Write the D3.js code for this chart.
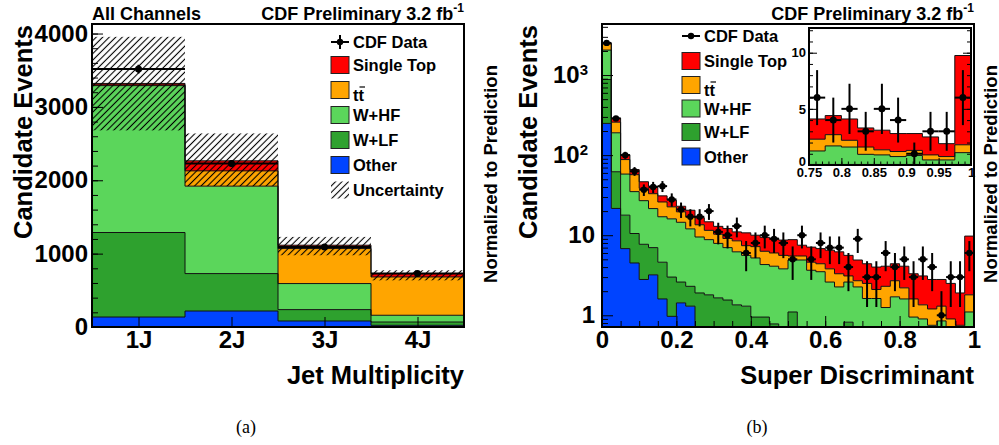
<!DOCTYPE html>
<html>
<head>
<meta charset="utf-8">
<script src="https://cdn.jsdelivr.net/npm/d3@7"></script>
<style>
  body { margin: 0; background: #fff; }
</style>
</head>
<body>
<div id="chart"></div>
<script>
// ---- (a) jet multiplicity ----
const jetBins = ['1J', '2J', '3J', '4J'];
const jetOther = [136, 218, 82, 23];
const jetWLF = [1152, 510, 155, 45];
const jetWHF = [2002, 1192, 355, 92];
const jetTT = [10, 208, 477, 522];
const jetST = [20, 137, 46, 46];
const jetData = [3515, 2228, 1091, 728];
const jetUncLow = [2680, 1920, 978, 636];
const jetUncHigh = [3955, 2638, 1228, 773];
const jetYTicks = [0, 1000, 2000, 3000, 4000];

// ---- (b) super discriminant, 40 bins of 0.025 ----
const sdOther = [249, 21.6, 6.8, 4.5, 2.8, 3.2, 1.6, 0.97, 1.43, 1.3,
  0, 0, 0, 0, 0, 0, 0, 0, 0, 0,
  0, 0, 0, 0, 0, 0, 0, 0, 0, 0,
  0, 0, 0, 0, 0, 0, 0, 0, 0, 0];
const sdWLF = [631, 40.4, 11, 6, 4.9, 3.8, 3.0, 2.03, 1.17, 1.0,
  1.9, 1.8, 1.65, 1.55, 1.35, 1.3, 0.95, 0.95, 0.78, 0.4,
  1.1, 0.4, 0.3, 0.3, 0.3, 0.3, 0.82, 0.2, 0.2, 0.2,
  0.05, 0.05, 0.05, 0.05, 0.05, 0.05, 0.05, 0.05, 0.05, 0.05];
const sdWHF = [1170, 128, 40.2, 24.5, 19.3, 14.5, 12.4, 13, 11.9, 9.7,
  7.6, 7.0, 6.25, 5.45, 4.85, 4.3, 4.25, 3.35, 3.32, 3.4,
  3.8, 4.5, 3.35, 3.2, 2.3, 1.96, 1.78, 2.06, 1.42, 1.42,
  1.2, 1.65, 1.55, 0.9, 0.85, 0.7, 0.8, 0.4, 0.4, 1.05];
const sdTT = [390, 68, 30, 22, 11.5, 11.5, 9, 6.6, 5.1, 5,
  4, 2.7, 2.4, 2.1, 2.3, 1.8, 2.0, 2.0, 1.9, 1.8,
  0.6, 0.6, 0.95, 0.9, 1.2, 1.04, 0.5, 0.44, 0.88, 0.48,
  1.05, 1.0, 0.6, 0.65, 0.45, 0.45, 0.45, 0.45, 0.3, 0.7];
const sdST = [80, 32, 13, 9, 8, 8, 5, 4.8, 3.4, 3.5,
  3, 3.2, 2.6, 3.0, 2.5, 3.3, 2.8, 3.1, 3.2, 3.1,
  3.3, 2.0, 2.5, 2.4, 2.7, 2.9, 2.5, 2.2, 1.9, 1.9,
  1.8, 1.7, 1.9, 1.7, 1.75, 1.6, 1.5, 1.6, 1.15, 7.95];
const sdData = [2520, 287, 100, 63, 37, 40, 41, 28, 21, 17,
  17, 20, 11, 10, 13, 6, 8, 10, 9, 8,
  5, 10, 5, 8, 7, 7, 4, 9, 3, 3,
  6, 4, 5, 3, 5, 4, 1, 3, 3, 6];
const sdXTicks = [0, 0.2, 0.4, 0.6, 0.8, 1];
const insetXTicks = [0.75, 0.8, 0.85, 0.9, 0.95, 1];
const insetYTicks = [0, 5, 10];

const legendLabels = ['CDF Data', 'Single Top', 'tt', 'W+HF', 'W+LF', 'Other', 'Uncertainty'];
const stackKeys = ['other', 'wlf', 'whf', 'tt', 'st'];
const stackColors = { other: '#0044ff', wlf: '#2ea12e', whf: '#5bd65b', tt: '#ffa500', st: '#ff0000' };

const FONT = '"Liberation Sans", Arial, Helvetica, sans-serif';
const W = 999, H = 445;

const svg = d3.select('#chart').append('svg')
  .attr('width', W).attr('height', H)
  .attr('viewBox', [0, 0, W, H])
  .attr('font-family', FONT)
  .attr('font-weight', 'bold');

svg.append('defs').append('pattern')
  .attr('id', 'hatch')
  .attr('patternUnits', 'userSpaceOnUse')
  .attr('width', 4.6).attr('height', 4.6)
  .attr('patternTransform', 'rotate(45)')
  .append('line')
  .attr('x1', 2.3).attr('y1', 0).attr('x2', 2.3).attr('y2', 4.6)
  .attr('stroke', '#000').attr('stroke-width', 1.1);

function drawStack(g, rows, edges, x, y, yMin) {
  const series = d3.stack().keys(stackKeys)(rows);
  const pts = s => {
    const p = s.map((d, i) => ({ x: edges[i], y0: d[0], y1: d[1] }));
    const last = s[s.length - 1];
    p.push({ x: edges[edges.length - 1], y0: last[0], y1: last[1] });
    return p;
  };
  const area = d3.area().curve(d3.curveStepAfter)
    .x(d => x(d.x))
    .y0(d => y(Math.max(d.y0, yMin)))
    .y1(d => y(Math.max(d.y1, yMin)));
  const line = d3.line().curve(d3.curveStepAfter)
    .x(d => x(d.x))
    .y(d => y(Math.max(d.y1, yMin)));
  g.selectAll('path.fill').data(series).enter().append('path')
    .attr('class', 'fill')
    .attr('d', s => area(pts(s)))
    .attr('fill', s => stackColors[s.key]);
  g.selectAll('path.edge').data(series).enter().append('path')
    .attr('class', 'edge')
    .attr('d', s => line(pts(s)))
    .attr('fill', 'none')
    .attr('stroke', '#111')
    .attr('stroke-width', 1);
}

function drawData(g, vals, edges, x, y, yMin, r) {
  const pts = g.selectAll('g.pt').data(vals).enter().append('g').attr('class', 'pt');
  pts.append('line')
    .attr('x1', (d, i) => x(edges[i])).attr('x2', (d, i) => x(edges[i + 1]))
    .attr('y1', d => y(d)).attr('y2', d => y(d))
    .attr('stroke', '#000').attr('stroke-width', 2);
  pts.append('line')
    .attr('x1', (d, i) => x((edges[i] + edges[i + 1]) / 2))
    .attr('x2', (d, i) => x((edges[i] + edges[i + 1]) / 2))
    .attr('y1', d => y(Math.max(d - Math.sqrt(d), yMin)))
    .attr('y2', d => y(d + Math.sqrt(d)))
    .attr('stroke', '#000').attr('stroke-width', 2);
  pts.append('circle')
    .attr('cx', (d, i) => x((edges[i] + edges[i + 1]) / 2))
    .attr('cy', d => y(d))
    .attr('r', r).attr('fill', '#000');
}

function styleAxis(g, size) {
  g.select('.domain').remove();
  g.attr('font-family', FONT).attr('font-size', size).attr('font-weight', 'bold');
  g.selectAll('.tick line').attr('stroke', '#000').attr('stroke-width', 1);
  g.selectAll('.tick text').attr('fill', '#000');
}

function legend(g, x0, rows, labels, dataStyle) {
  labels.forEach((lab, i) => {
    const cy = rows[i];
    if (i === 0) {
      g.append('line').attr('x1', x0).attr('x2', x0 + 18).attr('y1', cy).attr('y2', cy)
        .attr('stroke', '#000').attr('stroke-width', 2);
      if (dataStyle === 'cross') {
        g.append('line').attr('x1', x0 + 9).attr('x2', x0 + 9).attr('y1', cy - 7).attr('y2', cy + 7)
          .attr('stroke', '#000').attr('stroke-width', 2);
      }
      g.append('circle').attr('cx', x0 + 9).attr('cy', cy).attr('r', 3.2).attr('fill', '#000');
    } else if (lab === 'Uncertainty') {
      g.append('rect').attr('x', x0).attr('y', cy - 8.5).attr('width', 18).attr('height', 17)
        .attr('fill', 'url(#hatch)');
    } else {
      const key = stackKeys[5 - i];
      g.append('rect').attr('x', x0).attr('y', cy - 8.5).attr('width', 18).attr('height', 17)
        .attr('fill', stackColors[key]).attr('stroke', '#222').attr('stroke-width', 1);
    }
    const t = g.append('text').attr('x', x0 + 22).attr('font-size', 16.5).attr('fill', '#000');
    if (lab === 'tt') {
      t.attr('y', cy + 11).text('tt');
      g.append('line').attr('x1', x0 + 28.5).attr('x2', x0 + 34).attr('y1', cy - 3).attr('y2', cy - 3)
        .attr('stroke', '#000').attr('stroke-width', 1.2);
    } else {
      t.attr('y', cy + 6).text(lab);
    }
  });
}

function title(x, y, anchor, text, sup) {
  const t = svg.append('text').attr('x', x).attr('y', y).attr('text-anchor', anchor)
    .attr('font-size', 18).attr('fill', '#000').text(text);
  if (sup) t.append('tspan').attr('font-size', 12).attr('dy', -8).text(sup);
}

// ================= panel (a) =================
const L = { x0: 92, x1: 464, y0: 24, y1: 327 };
const xL = d3.scaleLinear().domain([0, jetBins.length]).range([L.x0, L.x1]);
const yL = d3.scaleLinear().domain([0, 4130]).range([L.y1, L.y0]);
const jetEdges = d3.range(jetBins.length + 1);
const jetRows = jetBins.map((b, i) => ({
  other: jetOther[i], wlf: jetWLF[i], whf: jetWHF[i], tt: jetTT[i], st: jetST[i]
}));

const gA = svg.append('g');
drawStack(gA, jetRows, jetEdges, xL, yL, 0);
gA.selectAll('rect.unc').data(jetBins).enter().append('rect')
  .attr('class', 'unc')
  .attr('x', (d, i) => xL(i)).attr('width', xL(1) - xL(0))
  .attr('y', (d, i) => yL(jetUncHigh[i]))
  .attr('height', (d, i) => yL(jetUncLow[i]) - yL(jetUncHigh[i]))
  .attr('fill', 'url(#hatch)');
drawData(gA, jetData, jetEdges, xL, yL, 0, 3.5);

const axLY = svg.append('g').attr('transform', `translate(${L.x0},0)`)
  .call(d3.axisLeft(yL).tickValues(jetYTicks).tickSize(-11).tickPadding(4).tickFormat(d3.format('d')));
styleAxis(axLY, 24);
const axLYm = svg.append('g').attr('transform', `translate(${L.x0},0)`)
  .call(d3.axisLeft(yL).tickValues(d3.range(0, 4130, 200)).tickSize(-6).tickFormat(''));
styleAxis(axLYm, 24);
const axLX = svg.append('g').attr('transform', `translate(0,${L.y1})`)
  .call(d3.axisBottom(xL).tickValues(jetBins.map((b, i) => i + 0.5)).tickSize(-10).tickPadding(4)
    .tickFormat((d, i) => jetBins[i]));
styleAxis(axLX, 24);

svg.append('rect').attr('x', L.x0).attr('y', L.y0).attr('width', L.x1 - L.x0).attr('height', L.y1 - L.y0)
  .attr('fill', 'none').attr('stroke', '#000').attr('stroke-width', 2);

legend(svg.append('g'), 331, [42, 65, 90, 115, 140, 165, 190], legendLabels, 'cross');

title(L.x0, 20, 'start', 'All Channels');
title(L.x1, 20, 'end', 'CDF Preliminary 3.2 fb', '-1');
svg.append('text').attr('transform', `translate(32,${L.y0 + 1}) rotate(-90)`)
  .attr('text-anchor', 'end').attr('font-size', 25.5).attr('fill', '#000').text('Candidate Events');
svg.append('text').attr('x', L.x1).attr('y', 384).attr('text-anchor', 'end')
  .attr('font-size', 25.5).attr('fill', '#000').text('Jet Multiplicity');
svg.append('text').attr('transform', 'translate(497,174) rotate(-90)')
  .attr('text-anchor', 'middle').attr('font-size', 18.5).attr('fill', '#000').text('Normalized to Prediction');

// ================= panel (b) =================
const R = { x0: 602, x1: 974, y0: 24, y1: 327 };
const yMinR = 0.714;
const xR = d3.scaleLinear().domain([0, 1]).range([R.x0, R.x1]);
const yR = d3.scaleLog().domain([yMinR, 4340]).range([R.y1, R.y0]).clamp(true);
const sdEdges = d3.range(sdData.length + 1).map(i => i * 0.025);
const sdRows = sdData.map((d, i) => ({
  other: sdOther[i], wlf: sdWLF[i], whf: sdWHF[i], tt: sdTT[i], st: sdST[i]
}));

const gB = svg.append('g');
drawStack(gB, sdRows, sdEdges, xR, yR, yMinR);
drawData(gB, sdData, sdEdges, xR, yR, yMinR, 3.2);

const axRY = svg.append('g').attr('transform', `translate(${R.x0},0)`)
  .call(d3.axisLeft(yR).tickValues([1, 10, 100, 1000]).tickSize(-11).tickPadding(7).tickFormat(''));
styleAxis(axRY, 24);
axRY.selectAll('.tick text').each(function (d) {
  const t = d3.select(this);
  if (d >= 100) {
    t.attr('x', -14).text('10');
    t.append('tspan').attr('font-size', 15).attr('dy', '-0.55em').text(String(Math.round(Math.log10(d))));
  } else {
    t.text(String(d));
  }
});
const logMinor = [];
[0.1, 1, 10, 100, 1000].forEach(p => d3.range(2, 10).forEach(k => {
  const v = k * p;
  if (v > yMinR && v < 4340) logMinor.push(v);
}));
const axRYm = svg.append('g').attr('transform', `translate(${R.x0},0)`)
  .call(d3.axisLeft(yR).tickValues(logMinor).tickSize(-6).tickFormat(''));
styleAxis(axRYm, 24);
const axRX = svg.append('g').attr('transform', `translate(0,${R.y1})`)
  .call(d3.axisBottom(xR).tickValues(sdXTicks).tickSize(-11).tickPadding(4)
    .tickFormat(d => (d === 0 || d === 1) ? String(d) : d3.format('.1f')(d)));
styleAxis(axRX, 24);
const axRXm = svg.append('g').attr('transform', `translate(0,${R.y1})`)
  .call(d3.axisBottom(xR).tickValues(d3.range(0, 21).map(i => i * 0.05)).tickSize(-6).tickFormat(''));
styleAxis(axRXm, 24);

svg.append('rect').attr('x', R.x0).attr('y', R.y0).attr('width', R.x1 - R.x0).attr('height', R.y1 - R.y0)
  .attr('fill', 'none').attr('stroke', '#000').attr('stroke-width', 2);

legend(svg.append('g'), 682, [36, 61, 85, 108.5, 132, 156.5], legendLabels.slice(0, 6), 'line');

title(R.x1, 20, 'end', 'CDF Preliminary 3.2 fb', '-1');
svg.append('text').attr('transform', `translate(537,${R.y0 + 1}) rotate(-90)`)
  .attr('text-anchor', 'end').attr('font-size', 25.5).attr('fill', '#000').text('Candidate Events');
svg.append('text').attr('x', R.x1).attr('y', 384).attr('text-anchor', 'end')
  .attr('font-size', 25.5).attr('fill', '#000').text('Super Discriminant');
svg.append('text').attr('transform', 'translate(997,174) rotate(-90)')
  .attr('text-anchor', 'middle').attr('font-size', 18.5).attr('fill', '#000').text('Normalized to Prediction');

// ---- inset: last 10 bins on a linear scale ----
const I = { x0: 809, x1: 971, y0: 28, y1: 165 };
const xI = d3.scaleLinear().domain([0.75, 1]).range([I.x0, I.x1]);
const yI = d3.scaleLinear().domain([0, 12.2]).range([I.y1, I.y0]);
const firstInset = 30;
const insetEdges = sdEdges.slice(firstInset);
const gI = svg.append('g');
gI.append('rect').attr('x', I.x0).attr('y', I.y0).attr('width', I.x1 - I.x0).attr('height', I.y1 - I.y0)
  .attr('fill', '#fff');
drawStack(gI, sdRows.slice(firstInset), insetEdges, xI, yI, 0);
drawData(gI, sdData.slice(firstInset), insetEdges, xI, yI, 0, 3.5);

const axIY = svg.append('g').attr('transform', `translate(${I.x0},0)`)
  .call(d3.axisLeft(yI).tickValues(insetYTicks).tickSize(-8).tickPadding(3));
styleAxis(axIY, 13);
axIY.selectAll('.tick text').attr('dy', d => d === 0 ? '0.05em' : '0.32em');
const axIYm = svg.append('g').attr('transform', `translate(${I.x0},0)`)
  .call(d3.axisLeft(yI).tickValues(d3.range(0, 13)).tickSize(-4).tickFormat(''));
styleAxis(axIYm, 13);
const axIYr = svg.append('g').attr('transform', `translate(${I.x1},0)`)
  .call(d3.axisRight(yI).tickValues(insetYTicks).tickSize(-8).tickFormat(''));
styleAxis(axIYr, 13);
const axIYrm = svg.append('g').attr('transform', `translate(${I.x1},0)`)
  .call(d3.axisRight(yI).tickValues(d3.range(0, 13)).tickSize(-4).tickFormat(''));
styleAxis(axIYrm, 13);
const axIX = svg.append('g').attr('transform', `translate(0,${I.y1})`)
  .call(d3.axisBottom(xI).tickValues(insetXTicks).tickSize(-7).tickPadding(3)
    .tickFormat(d => String(+d.toFixed(2))));
styleAxis(axIX, 13);
const axIXm = svg.append('g').attr('transform', `translate(0,${I.y1})`)
  .call(d3.axisBottom(xI).tickValues(d3.range(0, 26).map(i => 0.75 + i * 0.01)).tickSize(-3.5).tickFormat(''));
styleAxis(axIXm, 13);
svg.append('rect').attr('x', I.x0).attr('y', I.y0).attr('width', I.x1 - I.x0).attr('height', I.y1 - I.y0)
  .attr('fill', 'none').attr('stroke', '#000').attr('stroke-width', 2);

// ---- captions ----
svg.selectAll('text.cap').data(['(a)', '(b)']).enter().append('text')
  .attr('class', 'cap')
  .attr('x', (d, i) => i === 0 ? 246 : 757).attr('y', 433)
  .attr('text-anchor', 'middle')
  .attr('font-family', '"Liberation Serif", "Times New Roman", serif')
  .attr('font-weight', 'normal').attr('font-size', 18).attr('fill', '#000')
  .text(d => d);
</script>
</body>
</html>
